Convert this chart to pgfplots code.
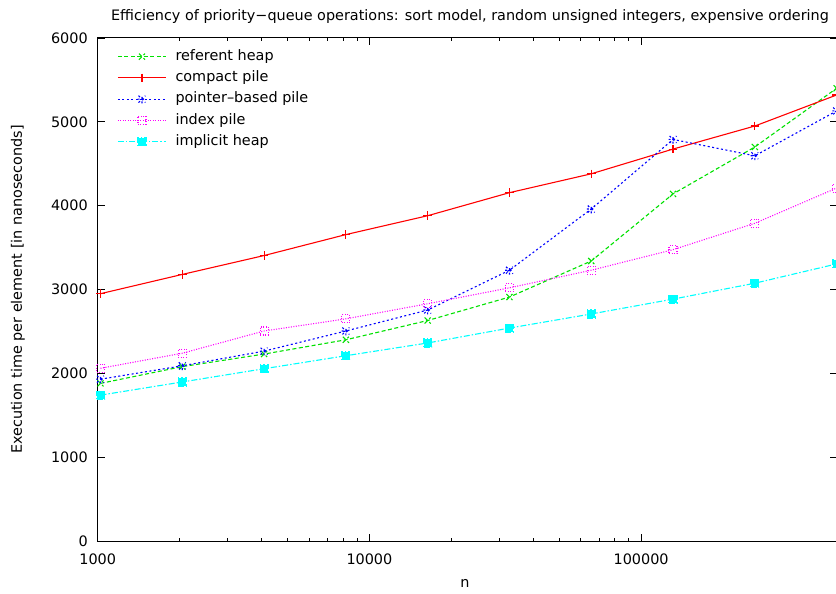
\documentclass[border=0pt]{standalone}
\usepackage{pgfplots}
\pgfplotsset{compat=1.18}
\usepackage{fontspec}
\setmainfont{DejaVu Sans}

\definecolor{gpred}{RGB}{255,0,0}
\definecolor{gpgreen}{RGB}{0,225,0}
\definecolor{gpblue}{RGB}{0,0,255}
\definecolor{gpmagenta}{RGB}{255,0,255}
\definecolor{gpcyan}{RGB}{0,255,255}

\newcommand{\gpfont}{\fontsize{14.4bp}{17bp}\selectfont}

% gnuplot-style asterisk: a plus and a cross laid over each other
\pgfdeclareplotmark{gpstar}{%
  \pgfpathmoveto{\pgfqpoint{-\pgfplotmarksize}{0pt}}%
  \pgfpathlineto{\pgfqpoint{\pgfplotmarksize}{0pt}}%
  \pgfpathmoveto{\pgfqpoint{0pt}{-\pgfplotmarksize}}%
  \pgfpathlineto{\pgfqpoint{0pt}{\pgfplotmarksize}}%
  \pgfpathmoveto{\pgfqpoint{-0.8\pgfplotmarksize}{-0.8\pgfplotmarksize}}%
  \pgfpathlineto{\pgfqpoint{0.8\pgfplotmarksize}{0.8\pgfplotmarksize}}%
  \pgfpathmoveto{\pgfqpoint{-0.8\pgfplotmarksize}{0.8\pgfplotmarksize}}%
  \pgfpathlineto{\pgfqpoint{0.8\pgfplotmarksize}{-0.8\pgfplotmarksize}}%
  \pgfusepathqstroke}

\begin{document}
\begin{tikzpicture}[font=\gpfont]
\begin{axis}[
  at={(0,0)}, anchor=south west,
  scale only axis, width=738.9bp, height=503bp,
  xmode=log, xmin=1000, xmax=524288,
  ymin=0, ymax=6000,
  xtick={1000,10000,100000}, xticklabels={1000,10000,100000},
  ytick={0,1000,...,6000},
  scaled y ticks=false,
  /pgf/number format/1000 sep={},
  /pgf/number format/assume math mode=true,
  tick label style={font=\gpfont},
  xticklabel style={yshift=-9bp},
  yticklabel style={xshift=-6.5bp},
  tick align=inside,
  major tick length=7bp, minor tick length=3.5bp,
  every tick/.style={black, line width=0.8bp},
  axis line style={line width=1bp},
  legend cell align=left,
  legend style={draw=none, fill=none, font=\gpfont,
    at={(0,1)}, anchor=north west, xshift=19.5bp, yshift=-11.2bp,
    inner sep=0pt, row sep=6.75bp, column sep=9bp,
    nodes={inner sep=0pt, text height=11bp, text depth=3.5bp}},
  legend image code/.code={\draw[mark repeat=2,mark phase=2]
    plot coordinates {(0bp,0bp) (24bp,0bp) (48bp,0bp)};},
  every axis plot/.append style={line width=1.1bp},
  every mark/.append style={solid},
]
% referent heap
\addplot[color=gpgreen, dash pattern=on 4bp off 2.5bp, mark=x, mark size=4.3bp]
  coordinates {(1024,1880) (2048,2080) (4096,2230) (8192,2400) (16384,2630)
    (32768,2910) (65536,3340) (131072,4140) (262144,4700) (524288,5400)};
\addlegendentry{referent heap}
% compact pile
\addplot[color=gpred, mark=+, mark size=4.3bp]
  coordinates {(1024,2950) (2048,3180) (4096,3405) (8192,3655) (16384,3880)
    (32768,4155) (65536,4380) (131072,4675) (262144,4950) (524288,5320)};
\addlegendentry{compact pile}
% pointer-based pile
\addplot[color=gpblue, dash pattern=on 2bp off 2.5bp, mark=gpstar, mark size=4.3bp]
  coordinates {(1024,1930) (2048,2090) (4096,2265) (8192,2505) (16384,2755)
    (32768,3230) (65536,3960) (131072,4790) (262144,4595) (524288,5130)};
\addlegendentry{pointer--based pile}
% index pile
\addplot[color=gpmagenta, dash pattern=on 1bp off 1.5bp, mark=square, mark size=4bp]
  coordinates {(1024,2060) (2048,2240) (4096,2505) (8192,2650) (16384,2830)
    (32768,3020) (65536,3230) (131072,3475) (262144,3790) (524288,4210)};
\addlegendentry{index pile}
% implicit heap
\addplot[color=gpcyan, dash pattern=on 6bp off 2bp on 1.5bp off 2bp, mark=square*,
    mark size=4bp, mark options={fill=gpcyan}]
  coordinates {(1024,1740) (2048,1897) (4096,2055) (8192,2210) (16384,2362)
    (32768,2540) (65536,2708) (131072,2885) (262144,3075) (524288,3305)};
\addlegendentry{implicit heap}
\end{axis}
% titles and axis labels
\node at (372.3bp,524bp) {Efficiency of priority\textminus queue operations: sort model, random unsigned integers, expensive ordering};
\node[rotate=90] at (-79.7bp,251.5bp) {Execution time per element [in nanoseconds]};
\node at (367.3bp,-42bp) {n};
\pgfresetboundingbox
\path[use as bounding box] (-97.7bp,-53bp) rectangle (738.3bp,541bp);
\end{tikzpicture}
\end{document}
